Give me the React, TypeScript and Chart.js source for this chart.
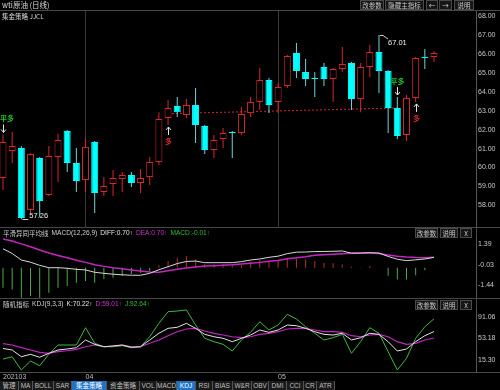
import React, { useEffect, useRef } from "react";
import { Chart, registerables } from "chart.js";

Chart.register(...registerables);

const CJK = '"Noto Sans CJK SC", "Noto Sans", sans-serif';
const NUM = '"Liberation Sans", Arial, sans-serif';
const RED = "#d8262c";
const CYAN = "#00ffff";
const CYAN_WICK = "#6fd6d6";

// ---------- data (daily candles, WTI crude) ----------
const candleOpen = [59.44, 60.87, 61.03, 57.75, 60.5, 58.54, 60.56, 61.93, 60.24, 59.34, 61.35, 58.7, 59.13, 59.39, 59.6, 59.18, 59.5, 60.29, 62.62, 63.25, 62.78, 63.31, 62.2, 60.93, 61.51, 61.88, 61.83, 62.88, 63.47, 64.63, 63.47, 64.31, 66.06, 65.05, 64.72, 65.32, 64.68, 65.21, 65.53, 63.62, 65.32, 66.11, 65.11, 63.15, 61.72, 63.68, 65.83, 65.85];
const candleHigh = [61.75, 61.88, 61.14, 60.76, 60.55, 61.14, 61.78, 61.98, 61.03, 61.56, 61.4, 59.5, 59.87, 59.76, 59.76, 59.92, 60.56, 62.93, 63.57, 63.73, 63.62, 64.21, 62.25, 61.72, 62.09, 61.93, 63.2, 63.73, 65.26, 64.74, 64.47, 65.95, 66.59, 65.74, 65.05, 65.53, 65.26, 66.38, 65.58, 65.53, 66.48, 67.01, 65.16, 63.73, 63.84, 65.84, 66.27, 66.16];
const candleLow = [58.81, 60.24, 57.26, 57.59, 57.38, 58.49, 59.23, 59.76, 58.7, 58.7, 57.59, 58.49, 58.49, 58.7, 58.97, 58.65, 59.07, 60.13, 62.25, 62.67, 62.62, 61.3, 60.71, 60.5, 61.03, 60.5, 61.72, 62.67, 63.04, 62.88, 62.88, 64.21, 64.74, 64.31, 63.73, 64.31, 63.47, 65.05, 63.04, 62.93, 64.79, 63.94, 61.83, 61.51, 61.4, 63.47, 65.21, 65.58];
const candleClose = [61.35, 61.14, 57.33, 60.71, 58.23, 60.61, 61.46, 60.24, 59.29, 61.09, 58.65, 59.02, 59.44, 59.6, 59.18, 59.44, 60.29, 62.56, 63.15, 62.93, 63.31, 62.25, 60.93, 61.46, 61.83, 61.83, 62.83, 63.47, 64.63, 63.31, 64.26, 65.9, 65.11, 64.68, 64.68, 64.68, 65.21, 65.48, 63.62, 65.32, 66.11, 65.11, 63.15, 61.67, 63.68, 65.79, 65.79, 66.06];
const priceTicks = [58, 59, 60, 61, 62, 63, 64, 65, 66, 67, 68];

// strategy line (red dotted) and signals
const stopLine = [
  { x: 18, y: 62.85 },
  { x: 43, y: 63.15 },
];
const closeLongIdx = [0, 43];
const openLongIdx = [18, 45];
const highMarkIdx = 41;
const lowMarkIdx = 2;

// month boundaries
const monthTickIdx = [0, 9, 30];
const monthTickLabels = ["202103", "04", "05"];

// MACD(12,26,9)
const difValues = [1.28, 0.96, 0.52, 0.37, 0.16, 0.0, 0.0, -0.04, -0.11, -0.15, -0.31, -0.38, -0.44, -0.48, -0.51, -0.51, -0.38, -0.14, 0.07, 0.28, 0.42, 0.45, 0.34, 0.34, 0.34, 0.34, 0.41, 0.52, 0.59, 0.7, 0.78, 0.95, 1.05, 1.06, 1.09, 1.1, 1.11, 1.13, 0.98, 0.99, 1.01, 0.99, 0.76, 0.57, 0.48, 0.53, 0.59, 0.7];
const deaValues = [1.94, 1.81, 1.61, 1.41, 1.2, 0.99, 0.83, 0.67, 0.51, 0.36, 0.2, 0.09, -0.01, -0.07, -0.15, -0.22, -0.29, -0.3, -0.2, -0.1, -0.02, 0.05, 0.11, 0.14, 0.17, 0.2, 0.25, 0.3, 0.36, 0.43, 0.49, 0.6, 0.68, 0.74, 0.84, 0.87, 0.91, 0.94, 0.97, 0.99, 1.01, 0.96, 0.86, 0.77, 0.72, 0.69, 0.68, 0.7];
const macdHist = [-1.35, -1.47, -2.03, -1.91, -2.03, -1.69, -1.35, -1.24, -1.01, -0.9, -1.01, -0.76, -0.68, -0.56, -0.43, -0.34, -0.22, 0.16, 0.45, 0.68, 0.79, 0.56, 0.23, 0.23, 0.23, 0.16, 0.16, 0.4, 0.5, 0.45, 0.52, 0.68, 0.6, 0.56, 0.43, 0.32, 0.3, 0.22, 0.06, 0.02, 0.11, 0.01, -0.54, -0.79, -0.79, -0.51, -0.15, -0.01];
const macdTicks = [1.39, -0.03, -1.44];

// KDJ(9,3,3)
const kValues = [40.6, 38.0, 26.2, 30.4, 25.2, 32.2, 38.0, 39.7, 42.0, 55.5, 47.9, 43.7, 45.0, 46.7, 42.7, 43.7, 55.5, 67.2, 75.9, 77.7, 84.7, 75.9, 65.4, 61.2, 58.4, 52.5, 58.4, 64.2, 73.0, 68.9, 73.0, 81.7, 80.5, 75.9, 70.0, 65.4, 64.2, 67.2, 55.5, 59.5, 67.2, 65.4, 52.5, 36.2, 39.7, 52.5, 63.0, 70.22];
const dValues = [49.0, 46.7, 42.0, 38.0, 33.9, 32.2, 35.0, 36.7, 39.2, 43.7, 46.7, 43.7, 45.0, 46.7, 43.7, 43.7, 49.7, 55.5, 63.0, 70.0, 74.7, 75.9, 71.2, 67.2, 64.2, 61.2, 59.5, 61.2, 65.4, 67.2, 70.0, 74.7, 75.9, 75.9, 73.0, 70.0, 70.0, 68.9, 63.0, 61.2, 64.2, 65.4, 61.2, 52.5, 47.9, 49.7, 55.5, 59.01];
const jValues = [22.2, 26.2, 3.0, 18.7, 10.5, 30.4, 46.7, 46.7, 46.7, 77.0, 49.7, 43.7, 43.7, 45.5, 42.0, 43.7, 61.2, 84.7, 105.0, 106.2, 108.0, 81.7, 58.4, 52.5, 47.9, 36.2, 55.5, 68.9, 87.5, 73.0, 81.7, 100.4, 92.2, 78.7, 67.2, 55.5, 59.5, 65.4, 32.2, 52.5, 77.0, 67.2, 35.0, 3.0, 23.4, 58.4, 78.7, 92.64];
const kdjTicks = [91.06, 53.18, 15.3];

const tabLabels = ["管理", "MA", "BOLL", "SAR", "集金策略", "资金策略", "VOL", "MACD", "KDJ", "RSI", "BIAS", "W&R", "OBV", "DMI", "CCI", "CR", "ATR"];
const activeTabs = ["集金策略", "KDJ"];

// ---------- layout constants (not data) ----------
const X_MIN = -0.327;
const X_MAX = 51.58;
const AXIS_W = 24;
const tabWidths = [19, 14, 21, 18, 35, 33, 17, 20, 19, 17, 20, 19, 17, 18, 17, 13, 18];

function xScale(showGrid: boolean) {
  return {
    type: "linear" as const,
    min: X_MIN,
    max: X_MAX,
    bounds: "data" as const,
    offset: false,
    afterBuildTicks: (s: any) => {
      s.ticks = monthTickIdx.slice(1).map((v) => ({ value: v }));
    },
    afterFit: (s: any) => {
      s.height = 0;
      s.paddingLeft = 0;
      s.paddingRight = 0;
    },
    ticks: { display: false },
    grid: { display: showGrid, color: "#3a3a3a", drawTicks: false, offset: false, lineWidth: 1 },
    border: { display: false },
  };
}

function yScale(min: number, max: number, ticks: number[], labelOffset: number) {
  return {
    type: "linear" as const,
    position: "right" as const,
    min,
    max,
    bounds: "data" as const,
    afterBuildTicks: (s: any) => {
      s.ticks = ticks.map((v) => ({ value: v }));
    },
    afterFit: (s: any) => {
      s.width = AXIS_W;
      s.paddingTop = 0;
      s.paddingBottom = 0;
    },
    grid: { display: false, drawTicks: false },
    border: { display: true, color: "#555555", width: 1 },
    ticks: {
      color: "#c8c8c8",
      font: { size: 7, family: NUM },
      padding: 2,
      labelOffset,
      callback: (v: any) => Number(v).toFixed(2),
    },
  };
}

function drawArrow(ctx: CanvasRenderingContext2D, x: number, yTail: number, yHead: number) {
  const dir = yHead > yTail ? 1 : -1;
  ctx.beginPath();
  ctx.moveTo(x, yTail);
  ctx.lineTo(x, yHead);
  ctx.moveTo(x - 2.5, yHead - dir * 3);
  ctx.lineTo(x, yHead);
  ctx.lineTo(x + 2.5, yHead - dir * 3);
  ctx.stroke();
}

const mainAnnotations = {
  id: "mainAnnotations",
  afterDatasetsDraw(chart: any) {
    const { ctx, scales } = chart;
    const xs = scales.x;
    const ys = scales.y;
    ctx.save();
    ctx.lineWidth = 1;
    ctx.strokeStyle = "#e6e6e6";
    ctx.textBaseline = "middle";
    ctx.textAlign = "left";
    closeLongIdx.forEach((i) => {
      const px = Math.round(xs.getPixelForValue(i)) + 0.5;
      const py = ys.getPixelForValue(candleHigh[i]);
      ctx.strokeStyle = "#e6e6e6";
      drawArrow(ctx, px, py - 10, py - 2);
      ctx.font = `bold 7px ${CJK}`;
      const w = ctx.measureText("平多").width;
      ctx.fillStyle = "#22c422";
      ctx.fillText("平多", Math.max(0, px - w / 2), py - 16);
    });
    openLongIdx.forEach((i) => {
      const px = Math.round(xs.getPixelForValue(i)) + 0.5;
      const py = ys.getPixelForValue(candleLow[i]);
      ctx.strokeStyle = "#e6e6e6";
      drawArrow(ctx, px, py + 10, py + 2);
      ctx.font = `bold 7px ${CJK}`;
      const w = ctx.measureText("多").width;
      ctx.fillStyle = "#e02828";
      ctx.fillText("多", px - w / 2, py + 16);
    });
    // extreme marks
    ctx.strokeStyle = "#d0d0d0";
    ctx.fillStyle = "#ececec";
    ctx.font = `7.5px ${NUM}`;
    {
      const px = xs.getPixelForValue(highMarkIdx);
      const py = ys.getPixelForValue(candleHigh[highMarkIdx]);
      ctx.beginPath();
      ctx.moveTo(px + 1, py + 0.5);
      ctx.lineTo(px + 4, py + 0.5);
      ctx.lineTo(px + 9, py + 4);
      ctx.stroke();
      ctx.fillText(candleHigh[highMarkIdx].toFixed(2), px + 9, py + 8);
    }
    {
      const px = xs.getPixelForValue(lowMarkIdx);
      const py = ys.getPixelForValue(candleLow[lowMarkIdx]);
      ctx.beginPath();
      ctx.moveTo(px + 1, Math.round(py) + 0.5);
      ctx.lineTo(px + 7, Math.round(py) + 0.5);
      ctx.stroke();
      ctx.fillText(candleLow[lowMarkIdx].toFixed(2), px + 8, py - 3);
    }
    ctx.restore();
  },
};

function Txt(props: { x: number; y: number; size?: number; color?: string; children: any; family?: string }) {
  return (
    <div
      style={{
        position: "absolute",
        left: props.x,
        top: props.y - 6,
        height: 12,
        lineHeight: "12px",
        fontSize: props.size ?? 7,
        color: props.color ?? "#d0d0d0",
        whiteSpace: "nowrap",
        fontFamily: props.family ?? CJK,
      }}
    >
      {props.children}
    </div>
  );
}

function Header(props: { y: number; parts: { text: string; color: string; cjk?: boolean }[] }) {
  return (
    <div
      style={{
        position: "absolute",
        left: 3,
        top: props.y - 6,
        height: 12,
        lineHeight: "12px",
        display: "flex",
        gap: 3,
        whiteSpace: "nowrap",
      }}
    >
      {props.parts.map((p, k) => (
        <span key={k} style={{ color: p.color, fontSize: p.cjk ? 6.5 : 6.6, fontFamily: p.cjk ? CJK : NUM }}>
          {p.text}
        </span>
      ))}
    </div>
  );
}

function Btn(props: { x: number; y: number; w: number; label: string }) {
  return (
    <div
      style={{
        position: "absolute",
        left: props.x,
        top: props.y,
        width: props.w,
        height: 10,
        boxSizing: "border-box",
        border: "1px solid #4a4a4a",
        background: "#161616",
        color: "#c8c8c8",
        fontSize: 6.5,
        lineHeight: "8px",
        textAlign: "center",
        fontFamily: CJK,
        whiteSpace: "nowrap",
        overflow: "hidden",
      }}
    >
      {props.label}
    </div>
  );
}

function HLine(props: { y: number; x?: number; w?: number }) {
  return <div style={{ position: "absolute", left: props.x ?? 0, top: props.y, width: props.w ?? 500, height: 1, background: "#474747" }} />;
}

export default function App() {
  const mainRef = useRef<HTMLCanvasElement>(null);
  const macdRef = useRef<HTMLCanvasElement>(null);
  const kdjRef = useRef<HTMLCanvasElement>(null);

  useEffect(() => {
    const idx = candleOpen.map((_, i) => i);
    const up = idx.map((i) => candleClose[i] >= candleOpen[i]);
    const common: any = {
      animation: false,
      responsive: false,
      maintainAspectRatio: false,
      events: [],
      plugins: { legend: { display: false }, tooltip: { enabled: false } },
    };

    const main = new Chart(mainRef.current!, {
      type: "bar",
      data: {
        datasets: [
          {
            type: "bar",
            data: idx.map((i) => ({ x: i, y: [candleOpen[i], candleClose[i]] })) as any,
            order: 0,
            grouped: false,
            barThickness: 7,
            borderWidth: 1,
            borderSkipped: false,
            minBarLength: 1,
            inflateAmount: 0,
            backgroundColor: idx.map((i) => (up[i] ? "#000000" : CYAN)),
            borderColor: idx.map((i) => (up[i] ? RED : CYAN)),
          } as any,
          {
            type: "bar",
            data: idx.map((i) => ({ x: i, y: [candleLow[i], candleHigh[i]] })) as any,
            order: 1,
            grouped: false,
            barThickness: 1,
            borderWidth: 0,
            inflateAmount: 0,
            backgroundColor: idx.map((i) => (up[i] ? RED : CYAN_WICK)),
          } as any,
          {
            type: "line",
            data: stopLine as any,
            order: 2,
            borderColor: RED,
            borderWidth: 1,
            borderDash: [2, 2],
            pointRadius: 0,
            tension: 0,
          } as any,
        ],
      },
      options: {
        ...common,
        layout: { padding: { top: 11, left: 0, right: 0, bottom: 0 } },
        scales: {
          x: xScale(true) as any,
          y: yScale(56.8, 68.28, priceTicks, 0) as any,
        },
      },
      plugins: [mainAnnotations],
    });

    const macd = new Chart(macdRef.current!, {
      type: "bar",
      data: {
        datasets: [
          {
            type: "line",
            data: idx.map((i) => ({ x: i, y: difValues[i] })) as any,
            order: 0,
            borderColor: "#d8d8d8",
            borderWidth: 1,
            pointRadius: 0,
            tension: 0,
          } as any,
          {
            type: "line",
            data: idx.map((i) => ({ x: i, y: deaValues[i] })) as any,
            order: 0,
            borderColor: "#c028c0",
            borderWidth: 1.5,
            pointRadius: 0,
            tension: 0,
          } as any,
          {
            type: "bar",
            data: idx.map((i) => ({ x: i, y: macdHist[i] })) as any,
            order: 1,
            grouped: false,
            barThickness: 1,
            borderWidth: 0,
            inflateAmount: 0,
            backgroundColor: idx.map((i) => (macdHist[i] >= 0 ? "#b83030" : "#4fa84f")),
          } as any,
        ],
      },
      options: {
        ...common,
        layout: { padding: 0 },
        scales: {
          x: xScale(false) as any,
          y: yScale(-2.047, 2.142, macdTicks, -3.5) as any,
        },
      },
    });

    const kdjX: any = {
      ...xScale(false),
      afterBuildTicks: (s: any) => {
        s.ticks = monthTickIdx.map((v) => ({ value: v }));
      },
      afterFit: (s: any) => {
        s.height = 10;
        s.paddingLeft = 0;
        s.paddingRight = 0;
      },
      ticks: {
        display: true,
        autoSkip: false,
        maxRotation: 0,
        align: "start",
        padding: 1,
        color: "#bdbdbd",
        font: { size: 7, family: NUM },
        callback: (v: any) => {
          const k = monthTickIdx.indexOf(Number(v));
          return k >= 0 ? monthTickLabels[k] : "";
        },
      },
    };

    const kdj = new Chart(kdjRef.current!, {
      type: "line",
      data: {
        datasets: [
          { data: idx.map((i) => ({ x: i, y: kValues[i] })) as any, borderColor: "#e4e4e4", borderWidth: 1, pointRadius: 0, tension: 0 },
          { data: idx.map((i) => ({ x: i, y: dValues[i] })) as any, borderColor: "#c028c0", borderWidth: 1.2, pointRadius: 0, tension: 0 },
          { data: idx.map((i) => ({ x: i, y: jValues[i] })) as any, borderColor: "#3cbc3c", borderWidth: 1, pointRadius: 0, tension: 0 },
        ],
      },
      options: {
        ...common,
        layout: { padding: 0 },
        scales: {
          x: kdjX,
          y: yScale(-0.55, 111.5, kdjTicks, -3) as any,
        },
      },
    });

    return () => {
      main.destroy();
      macd.destroy();
      kdj.destroy();
    };
  }, []);

  const last = candleOpen.length - 1;
  let tabX = 0;

  return (
    <div
      style={{
        position: "absolute",
        left: 0,
        top: 0,
        width: 500,
        height: 390,
        background: "#000",
        overflow: "hidden",
        fontFamily: CJK,
      }}
    >
      {/* separators */}
      <HLine y={10} />
      <HLine y={227} />
      <HLine y={298} />
      <HLine y={372} />
      <div style={{ position: "absolute", left: 476, top: 10, width: 1, height: 363, background: "#474747" }} />

      <canvas ref={mainRef} width={500} height={228} style={{ position: "absolute", left: 0, top: 0 }} />
      <canvas ref={macdRef} width={500} height={62} style={{ position: "absolute", left: 0, top: 236 }} />
      <canvas ref={kdjRef} width={500} height={74} style={{ position: "absolute", left: 0, top: 308 }} />

      {/* title row */}
      <Txt x={2} y={5} size={7.5} color="#d8d8d8">wti原油 (日线)</Txt>
      <Btn x={360} y={0} w={24} label="改参数" />
      <Btn x={385} y={0} w={39} label="隐藏主指标" />
      <Btn x={426} y={0} w={12} label="←" />
      <Btn x={439} y={0} w={13} label="→" />
      <Btn x={454} y={0} w={20} label="说明" />
      <Txt x={2} y={16} size={6.5} color="#d8d8d8">集金策略 JJCL</Txt>

      {/* MACD header */}
      <Header
        y={233}
        parts={[
          { text: "平滑异同平均线", color: "#d0d0d0", cjk: true },
          { text: "MACD(12,26,9)", color: "#d0d0d0" },
          { text: `DIFF:${difValues[last].toFixed(2)}↑`, color: "#e6e6e6" },
          { text: `DEA:${deaValues[last].toFixed(2)}↑`, color: "#cc33cc" },
          { text: `MACD:${macdHist[last].toFixed(2)}↑`, color: "#33bb33" },
        ]}
      />
      <Btn x={415} y={228} w={23} label="改参数" />
      <Btn x={440} y={228} w={18} label="说明" />
      <Btn x={460} y={228} w={12} label="X" />

      {/* KDJ header */}
      <Header
        y={304}
        parts={[
          { text: "随机指标", color: "#d0d0d0", cjk: true },
          { text: "KDJ(9,3,3)", color: "#d0d0d0" },
          { text: `K:${kValues[last].toFixed(2)}↑`, color: "#e6e6e6" },
          { text: `D:${dValues[last].toFixed(2)}↑`, color: "#cc33cc" },
          { text: `J:${jValues[last].toFixed(2)}↑`, color: "#33bb33" },
        ]}
      />
      <Btn x={415} y={300} w={23} label="改参数" />
      <Btn x={440} y={300} w={18} label="说明" />
      <Btn x={460} y={300} w={12} label="X" />

      {/* tab bar */}
      {tabLabels.map((t, k) => {
        const left = tabX;
        tabX += tabWidths[k];
        const active = activeTabs.includes(t);
        return (
          <div
            key={t}
            style={{
              position: "absolute",
              left,
              top: 381,
              width: tabWidths[k] - 1,
              height: 9,
              background: active ? "#1f74c8" : "#1a1a1a",
              borderRight: "1px solid #555",
              color: active ? "#ffffff" : "#bdbdbd",
              fontSize: 6.5,
              lineHeight: "9px",
              textAlign: "center",
              fontFamily: /[A-Z]/.test(t) ? NUM : CJK,
              whiteSpace: "nowrap",
              overflow: "hidden",
            }}
          >
            {t}
          </div>
        );
      })}
    </div>
  );
}
